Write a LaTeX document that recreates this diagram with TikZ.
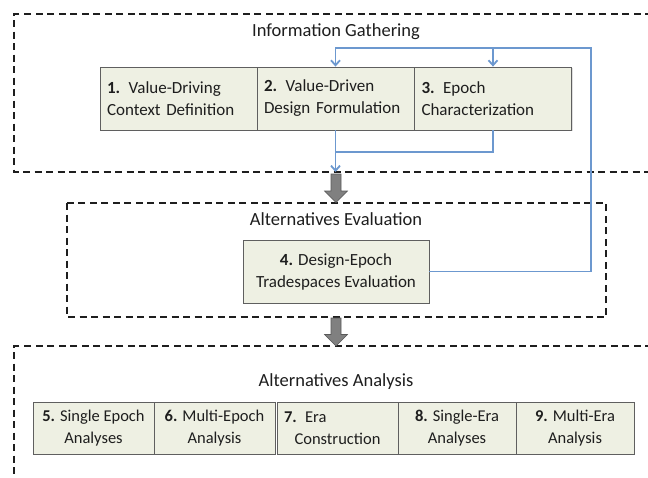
\documentclass[tikz,border=0pt]{standalone}
\usepackage{fontspec}
\setmainfont{Carlito}
\usetikzlibrary{arrows.meta,shadows}
\definecolor{boxfill}{RGB}{238,240,227}
\definecolor{boxline}{RGB}{95,95,95}
\definecolor{flow}{RGB}{108,152,207}
\definecolor{garrow}{RGB}{128,128,128}
\definecolor{ink}{RGB}{30,30,30}
\begin{document}
\begin{tikzpicture}[x=1pt,y=-1pt,
  stagebox/.style={draw=boxline, line width=0.8pt, fill=boxfill, inner xsep=7pt, inner ysep=0pt,
    minimum height=63pt, font=\fontsize{17}{22}\selectfont, text=ink,
    drop shadow={shadow xshift=1.2pt, shadow yshift=-1.2pt, opacity=0.25}},
  rowone/.style={stagebox, minimum width=157pt, text width=143pt, align=left},
  rowthree/.style={stagebox, minimum height=52pt, inner xsep=3pt, align=center, font=\fontsize{16.5}{22}\selectfont},
  grouptitle/.style={font=\fontsize{18.5}{22}\selectfont, text=ink},
  dashbox/.style={line width=2pt, dash pattern=on 7pt off 4.5pt, ink},
  flowline/.style={draw=flow, line width=1.8pt},
  flowarrow/.style={flowline, -{Straight Barb[length=5pt,width=9pt]}},
  blockarrow/.style={fill=garrow, draw=black!65, line width=0.6pt, line join=miter}]
\useasboundingbox (0,0) rectangle (648,477);
\fill[white] (0,0) rectangle (648,477);
\clip (0,0) rectangle (648,477);

% group frames
\draw[dashbox] (652,14) -- (14,14) -- (14,172) -- (652,172);
\draw[dashbox] (67,203) rectangle (606,317);
\draw[dashbox] (652,346) -- (14,346) -- (14,482);

% titles
\node[grouptitle] (t1) at (336,32) {Information Gathering};
\node[grouptitle] (t2) at (336,219) {Alternatives Evaluation};
\node[grouptitle] (t3) at (336,382) {Alternatives Analysis};

% row 1
\node[rowone] (b1) at (178.5,98.5) {\textbf{1.} Value-Driving\\Context Definition};
\node[rowone] (b2) at (335.5,98.5) {\textbf{2.} Value-Driven\\Design Formulation};
\node[rowone] (b3) at (493,98.5) {\textbf{3.} Epoch\\Characterization};

% box 4
\node[stagebox, minimum width=186pt, align=center] (b4) at (336,271.5) {\textbf{4.} Design-Epoch\\Tradespaces Evaluation};

% row 3
\node[rowthree, minimum width=121pt] (b5) at (93.5,428) {\textbf{5.} Single Epoch\\Analyses};
\node[rowthree, minimum width=121pt] (b6) at (214.5,428) {\textbf{6.} Multi-Epoch\\Analysis};
\node[rowthree, minimum width=121pt, inner xsep=7pt, text width=107pt] (b7) at (337.5,428) {\makebox[\linewidth][l]{\textbf{7.} Era}\\Construction};
\node[rowthree, minimum width=118pt] (b8) at (457,428) {\textbf{8.} Single-Era\\Analyses};
\node[rowthree, minimum width=118pt] (b9) at (575,428) {\textbf{9.} Multi-Era\\Analysis};

% blue flows
\coordinate (fb) at (591,48);
\coordinate (join) at (335.5,152);
\coordinate (out) at (335.5,172);
\draw[flowarrow] (b4.east) -| (fb) -| (b2.north);
\draw[flowarrow] (b3.north |- fb) -- (b3.north);
\draw[flowline] (b3.south) |- (join);
\draw[flowarrow] (b2.south) -- (out);

% grey block arrows
\coordinate (g1) at (336,174);
\coordinate (g2) at (336,318);
\draw[blockarrow] (g1) ++(-5,0) -- ++(10,0) -- ++(0,17) -- ++(6.5,0) -- ++(-11.5,11.5) -- ++(-11.5,-11.5) -- ++(6.5,0) -- cycle;
\draw[blockarrow] (g2) ++(-5,0) -- ++(10,0) -- ++(0,16.5) -- ++(6.5,0) -- ++(-11.5,11.5) -- ++(-11.5,-11.5) -- ++(6.5,0) -- cycle;
\end{tikzpicture}
\end{document}
